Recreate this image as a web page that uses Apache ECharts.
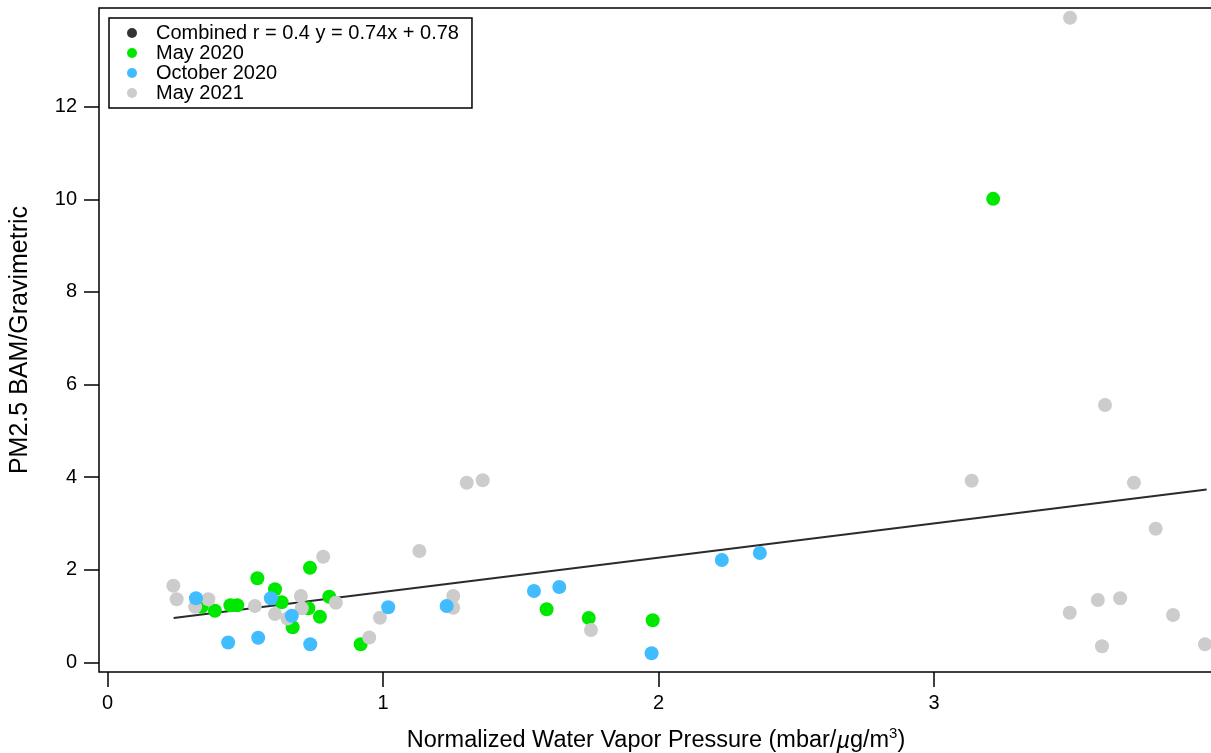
<!DOCTYPE html>
<html>
<head>
<meta charset="utf-8">
<script src="https://cdn.jsdelivr.net/npm/echarts@6/dist/echarts.min.js"></script>
<style>
html,body{margin:0;padding:0;background:#fff;}
#chart{width:1211px;height:753px;}
</style>
</head>
<body>
<div id="chart"></div>
<script>
// ---- data ----
const may2020 = [
  [0.342,1.201],[0.390,1.114],[0.446,1.231],[0.471,1.231],[0.544,1.814],
  [0.608,1.577],[0.632,1.296],[0.672,0.756],[0.735,2.043],[0.729,1.166],
  [0.771,0.985],[0.805,1.417],[0.919,0.389],[1.594,1.145],[1.747,0.957],
  [1.979,0.907],[3.215,10.01]
];
const october2020 = [
  [0.321,1.382],[0.438,0.428],[0.547,0.531],[0.593,1.382],[0.669,1.006],
  [0.736,0.389],[1.019,1.188],[1.231,1.216],[1.548,1.540],[1.640,1.626],
  [1.975,0.194],[2.230,2.210],[2.368,2.360]
];
const may2021 = [
  [0.239,1.654],[0.251,1.361],[0.318,1.201],[0.366,1.361],[0.535,1.216],
  [0.608,1.043],[0.653,0.946],[0.702,1.432],[0.705,1.166],[0.783,2.281],
  [0.829,1.287],[0.950,0.536],[0.989,0.963],[1.132,2.404],[1.255,1.432],
  [1.255,1.179],[1.304,3.879],[1.362,3.931],[1.755,0.698],[3.137,3.922],
  [3.494,13.92],[3.621,5.557],[3.726,3.879],[3.805,2.886],[3.595,1.346],
  [3.676,1.382],[3.493,1.071],[3.868,1.022],[3.610,0.346],[3.984,0.389]
];
const fitSlope = 0.74;
const fitIntercept = 0.78;
const fitXRange = [0.24, 3.99];
const xTickValues = [0, 1, 2, 3];
const yTickValues = [0, 2, 4, 6, 8, 10, 12];
const seriesNames = ['Combined r = 0.4 y = 0.74x + 0.78', 'May 2020', 'October 2020', 'May 2021'];

const fitLine = fitXRange.map(x => [x, fitSlope * x + fitIntercept]);

const FONT = '"Liberation Sans", Arial, Helvetica, sans-serif';
const chart = echarts.init(document.getElementById('chart'), null, {renderer: 'canvas'});
chart.setOption({
  animation: false,
  backgroundColor: '#fff',
  textStyle: {fontFamily: FONT, color: '#000'},
  grid: {
    left: 99, right: -2, top: 8, bottom: 81,
    containLabel: false,
    outerBoundsMode: 'none',
    show: true, borderColor: '#000', borderWidth: 1.5, backgroundColor: 'transparent'
  },
  legend: {
    orient: 'vertical',
    left: 109, top: 18,
    padding: [5, 13, 5, 18],
    itemGap: 0,
    itemWidth: 10, itemHeight: 10,
    borderColor: '#000', borderWidth: 1.5,
    backgroundColor: '#fff',
    textStyle: {fontFamily: FONT, fontSize: 20, color: '#000', lineHeight: 20, padding: [0, 0, 0, 14]},
    data: [
      {name: seriesNames[0], icon: 'circle'},
      {name: seriesNames[1], icon: 'circle'},
      {name: seriesNames[2], icon: 'circle'},
      {name: seriesNames[3], icon: 'circle'}
    ]
  },
  xAxis: {
    type: 'value', min: -0.0309, max: 4.013,
    axisLine: {show: false, onZero: false},
    splitLine: {show: false},
    axisTick: {show: true, customValues: xTickValues, length: 15, lineStyle: {color: '#000', width: 1.5}},
    axisLabel: {customValues: xTickValues, margin: 21, fontSize: 20, color: '#000', fontFamily: FONT},
    name: '{a|Normalized Water Vapor Pressure (mbar/}{i|µ}{a|g/m}{s|3}{a|)}',
    nameLocation: 'middle', nameGap: 54,
    nameTextStyle: {
      rich: {
        a: {fontSize: 23.5, fontFamily: FONT, color: '#000'},
        i: {fontSize: 23.5, fontFamily: FONT, fontStyle: 'italic', color: '#000'},
        s: {fontSize: 15, fontFamily: FONT, color: '#000', padding: [0, 0, 15, 0]}
      }
    }
  },
  yAxis: {
    type: 'value', min: -0.2095, max: 14.132,
    axisLine: {show: false, onZero: false},
    splitLine: {show: false},
    axisTick: {show: true, customValues: yTickValues, length: 15, lineStyle: {color: '#000', width: 1.5}},
    axisLabel: {customValues: yTickValues, margin: 22, fontSize: 20, color: '#000', fontFamily: FONT},
    name: 'PM2.5 BAM/Gravimetric',
    nameLocation: 'middle', nameGap: 66,
    nameTextStyle: {fontSize: 25, fontFamily: FONT, color: '#000'}
  },
  series: [
    {
      name: seriesNames[0], type: 'scatter', data: [], itemStyle: {color: '#000'}
    },
    {
      name: 'fit', type: 'line', data: fitLine, symbol: 'none', z: 1,
      lineStyle: {color: '#2b2b2b', width: 2}, silent: true
    },
    {
      name: seriesNames[1], type: 'scatter', data: may2020, symbolSize: 14, z: 2,
      itemStyle: {color: '#00e800', opacity: 1}
    },
    {
      name: seriesNames[3], type: 'scatter', data: may2021, symbolSize: 14, z: 2,
      itemStyle: {color: '#cccccc', opacity: 1}
    },
    {
      name: seriesNames[2], type: 'scatter', data: october2020, symbolSize: 14, z: 2,
      itemStyle: {color: '#40bcff', opacity: 1}
    }
  ]
});
</script>
</body>
</html>
